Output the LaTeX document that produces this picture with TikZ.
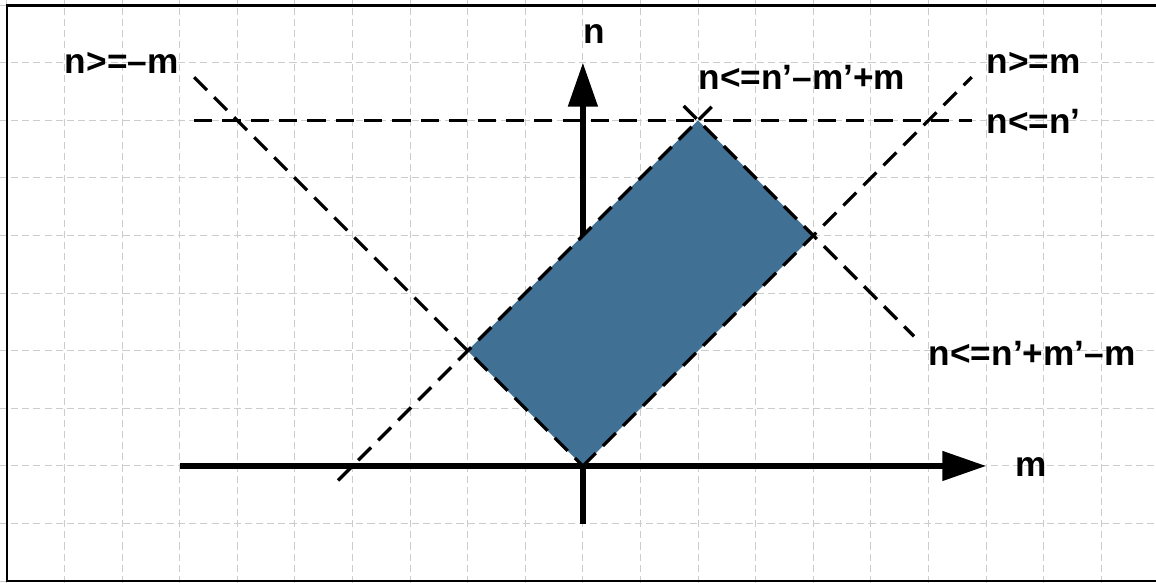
\documentclass[tikz,border=0pt]{standalone}
\usepackage{fontspec}
\setmainfont{Liberation Sans}
\usetikzlibrary{arrows.meta}
\definecolor{regione}{RGB}{64,112,148}

\begin{document}
\begin{tikzpicture}[
    griglia/.style={draw=black!20, dash pattern=on 3.5pt off 2pt, line width=0.5pt},
    asse/.style={line width=2.6pt, -{Triangle[length=0.76cm, width=0.5cm]}},
    vincolo/.style={dash pattern=on 9pt off 5pt, line width=1.6pt},
    etichetta/.style={anchor=base west, inner sep=0pt, font=\fontsize{17.4}{20}\selectfont\bfseries}]
    \useasboundingbox (-10.12,-2.03) rectangle (9.95,8.09);

    % Griglia e cornice
    \draw[griglia] (-10.12,-2.03) grid (9.95,8.09);
    \draw[line width=1.3pt] (-10,-2) rectangle (10,8);

    % Punti
    \coordinate (O) at (0,0);
    \coordinate (A) at (-2,2);
    \coordinate (B) at (2,6);
    \coordinate (C) at (4,4);
    \coordinate (m0) at (-7,0);
    \coordinate (m1) at (7,0);
    \coordinate (n0) at (0,-1);
    \coordinate (n1) at (0,7);

    % Assi
    \draw[asse] (m0) -- (m1);
    \draw[asse] (n0) -- (n1);

    % Regione ammissibile
    \fill[regione] (O) -- (C) -- (B) -- (A) -- cycle;

    % Vincoli (tratteggiati)
    \coordinate (v1) at (-6.75,6.75);
    \coordinate (v2a) at (-6.75,6);
    \coordinate (v2b) at (6.75,6);
    \coordinate (v3) at (6.75,6.75);
    \coordinate (v4a) at (-4.25,-0.25);
    \coordinate (v4b) at (2.25,6.25);
    \coordinate (v5a) at (1.75,6.25);
    \coordinate (v5b) at (5.75,2.25);
    \draw[vincolo] (v1) -- (O);
    \draw[vincolo] (v2a) -- (v2b);
    \draw[vincolo] (O) -- (v3);
    \draw[vincolo] (v4a) -- (v4b);
    \draw[vincolo] (v5a) -- (v5b);

    % Etichette
    \node[etichetta] (lm) at (-9,6.82) {n>=\textendash m};
    \node[etichetta] (ln) at (0,7.34) {n};
    \node[etichetta] (lsup) at (2,6.53) {n<=n’\textendash m’+m};
    \node[etichetta] (lpm) at (7,6.82) {n>=m};
    \node[etichetta] (lmax) at (7,5.78) {n<=n’};
    \node[etichetta] (linf) at (6,1.75) {n<=n’+m’\textendash m};
    \node[etichetta] (lasse) at (7.5,-0.19) {m};
\end{tikzpicture}
\end{document}
